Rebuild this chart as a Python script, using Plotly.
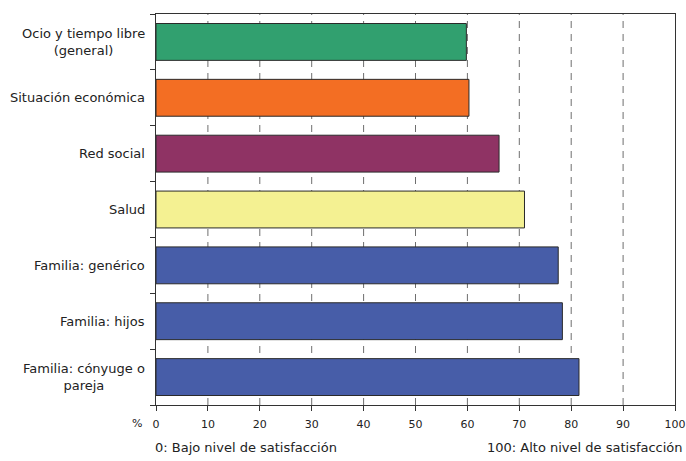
import plotly.graph_objects as go

# Satisfaction scores (0-100) by life domain, top to bottom
categories = [
    "Ocio y tiempo libre<br>(general)",
    "Situación económica",
    "Red social",
    "Salud",
    "Familia: genérico",
    "Familia: hijos",
    "Familia: cónyuge o<br>pareja",
]
values = [59.8, 60.3, 66.1, 71.0, 77.5, 78.3, 81.5]
bar_colors = ["#31A06F", "#F36E23", "#8F3364", "#F4F192", "#475DA8", "#475DA8", "#475DA8"]
x_ticks = [0, 10, 20, 30, 40, 50, 60, 70, 80, 90, 100]

n = len(categories)
positions = list(range(n))  # 0 = top row (axis is reversed)

FONT = "DejaVu Sans"
TEXT = "#222222"

fig = go.Figure()
fig.add_trace(go.Bar(
    x=values,
    y=positions,
    orientation="h",
    width=0.66,
    marker=dict(color=bar_colors, line=dict(color="#2a2a2a", width=1)),
    hoverinfo="x",
    showlegend=False,
))

# vertical dashed reference lines
for v in x_ticks[1:-1]:
    fig.add_vline(x=v, line=dict(color="#6e6e6e", width=1, dash="7px,6px"), layer="below")

# category labels: right-anchored, multi-line labels centred on themselves
label_annotations = [
    dict(text=cat, xref="paper", yref="y", x=0, y=pos, xanchor="right",
         yanchor="middle", align="center", xshift=-9, showarrow=False,
         font=dict(size=13, family=FONT, color=TEXT))
    for cat, pos in zip(categories, positions)
]

yrange = [n - 0.5, -0.5]
fig.update_layout(
    width=686, height=461,
    margin=dict(l=156, r=11, t=14, b=56),
    paper_bgcolor="white", plot_bgcolor="white",
    font=dict(family=FONT, size=12, color=TEXT),
    xaxis=dict(
        range=[0, 100], tickvals=x_ticks, ticks="outside", ticklen=5,
        tickcolor="#333333", showline=True, linecolor="#333333", linewidth=1,
        mirror=True, showgrid=False, zeroline=False, automargin=False,
        ticklabelstandoff=4,
        tickfont=dict(size=11, family=FONT, color=TEXT),
    ),
    yaxis=dict(
        range=yrange, tickmode="array",
        tickvals=[p - 0.5 for p in positions] + [n - 0.5],
        ticks="outside", ticklen=5, tickcolor="#333333",
        showticklabels=False, showline=True, linecolor="#333333",
        linewidth=1, mirror=True, showgrid=False, zeroline=False,
        automargin=False,
    ),
    annotations=label_annotations + [
        dict(text="%", xref="paper", yref="paper", x=0, y=0, xanchor="right",
             yanchor="top", xshift=-12, yshift=-10, showarrow=False,
             font=dict(size=11, family=FONT, color=TEXT)),
        dict(text="0: Bajo nivel de satisfacción", xref="paper", yref="paper",
             x=0, y=0, xanchor="left", yanchor="top", xshift=-3, yshift=-33,
             showarrow=False, font=dict(size=13, family=FONT, color=TEXT)),
        dict(text="100: Alto nivel de satisfacción", xref="paper", yref="paper",
             x=1, y=0, xanchor="right", yanchor="top", xshift=10, yshift=-33,
             showarrow=False, font=dict(size=13, family=FONT, color=TEXT)),
    ],
)

fig.write_html("out.html")
